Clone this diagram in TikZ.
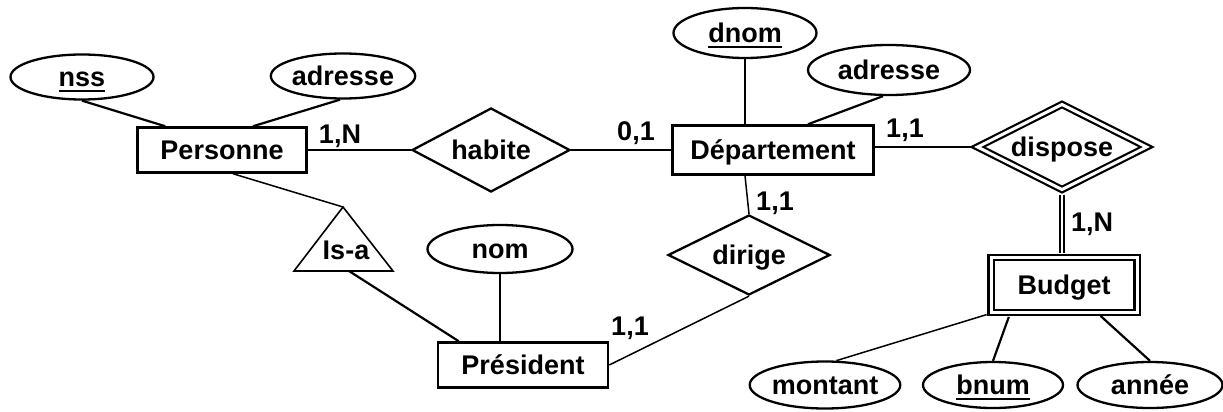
\documentclass[tikz,border=0pt]{standalone}
\usepackage{fontspec}
\setmainfont{Liberation Sans}
\usetikzlibrary{shapes.geometric}
\newcommand\myul[1]{\setbox0\hbox{#1}\rlap{\rule[-5pt]{\wd0}{2.2pt}}\box0}
\begin{document}
\begin{tikzpicture}[x=1pt,y=-1pt,
  every node/.style={font=\fontsize{27}{31}\selectfont\bfseries, inner sep=0pt, text height=19.5pt, text depth=0pt},
  ent/.style={draw, line width=2.5pt, rectangle},
  attr/.style={draw, line width=2.3pt, ellipse},
  rel/.style={draw, line width=2.3pt, diamond, aspect=2},
  dbl/.style={double, double distance=3pt, line width=2.2pt},
  conn/.style={line width=2.2pt},
  thinconn/.style={line width=1.5pt},
  card/.style={}]
\useasboundingbox (0,0) rectangle (1223,412);
% entities
\node[ent, minimum width=169pt, minimum height=45pt] (pers) at (222,150) {Personne};
\node[ent, minimum width=201pt, minimum height=49pt] (dept) at (773,150) {Département};
\node[ent, minimum width=170pt, minimum height=45pt] (pres) at (523,365) {Président};
\node[ent, dbl, minimum width=146pt, minimum height=55pt] (bud) at (1064,285) {Budget};
% attributes
\node[attr, minimum width=143pt, minimum height=45pt] (nss) at (82,77) {\myul{nss}};
\node[attr, minimum width=143pt, minimum height=45pt] (adr1) at (343,76) {adresse};
\node[attr, minimum width=143pt, minimum height=50pt] (dnom) at (745,33) {\myul{dnom}};
\node[attr, minimum width=162pt, minimum height=50pt] (adr2) at (889,70) {adresse};
\node[attr, minimum width=145pt, minimum height=48pt] (nom) at (500,249) {nom};
\node[attr, minimum width=146pt, minimum height=47pt] (mont) at (825,385) {montant};
\node[attr, minimum width=140pt, minimum height=46pt] (bnum) at (993,385) {\myul{bnum}};
\node[attr, minimum width=145pt, minimum height=46pt] (annee) at (1150,385) {année};
% relationships
\node[rel, minimum width=158pt, minimum height=84pt] (hab) at (491,150) {habite};
\node[rel, minimum width=162pt, minimum height=80pt] (dir) at (749,255) {dirige};
\node[rel, dbl, minimum width=170pt, minimum height=86pt] (disp) at (1062,147) {dispose};
% is-a triangle
\coordinate (isaT) at (343,207);
\coordinate (isaL) at (294,271);
\coordinate (isaR) at (393,271);
\draw[line width=1.6pt, line join=miter] (isaT) -- (isaL) -- (isaR) -- cycle;
\node (isa) at (346,250) {Is-a};
\coordinate (isaB) at (349,271);
% connectors
\draw[conn] (nss.south) -- ([xshift=29pt]pers.north west);
\draw[conn] ([xshift=-3pt]adr1.south) -- ([xshift=31pt]pers.north);
\draw[conn] (pers.east) -- (hab.west);
\draw[conn] (hab.east) -- (dept.west);
\draw[conn] (dnom.south) -- (dnom.south |- dept.north);
\draw[conn] ([xshift=-6pt]adr2.south) -- ([xshift=35pt]dept.north);
\draw[conn, shorten >=3.5pt] (dept.east |- disp.west) -- (disp.west);
\draw[double, double distance=2.5pt, line width=1.6pt, shorten <=3.5pt, shorten >=3.5pt] (disp.south) -- (disp.south |- bud.north);
\draw[thinconn] ([xshift=-28pt]dept.south) -- (dir.north);
\draw[thinconn] (pres.east) -- (dir.south);
\draw[thinconn] ([xshift=11pt]pers.south) -- (isaT);
\draw[conn] (isaB) -- ([xshift=22pt]pres.north west);
\draw[conn] (nom.south) -- (nom.south |- pres.north);
\draw[thinconn, shorten <=3.5pt] (bud.south west) -- (mont.65);
\draw[conn, shorten <=3.5pt] ([xshift=-54pt]bud.south) -- (bnum.north);
\draw[conn, shorten <=3.5pt] ([xshift=34pt]bud.south) -- (annee.north);
% cardinalities
\node[card] (c1) at (340,134) {1,N};
\node[card] (c2) at (636,131) {0,1};
\node[card] (c3) at (775,201) {1,1};
\node[card] (c4) at (905,128) {1,1};
\node[card] (c5) at (1092,222) {1,N};
\node[card] (c6) at (630,326) {1,1};
\end{tikzpicture}
\end{document}
